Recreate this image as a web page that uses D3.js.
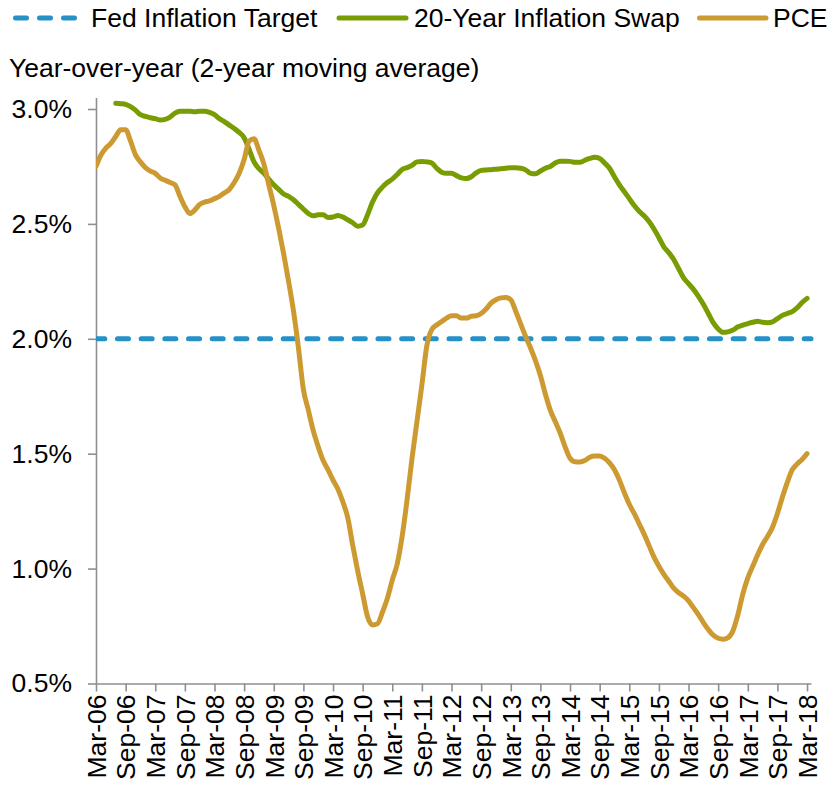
<!DOCTYPE html>
<html>
<head>
<meta charset="utf-8">
<script src="https://cdn.jsdelivr.net/npm/d3@7"></script>
<style>
  body { margin: 0; background: #fff; }
  svg { display: block; }
  text { font-family: "Liberation Sans", Arial, sans-serif; fill: #000; }
</style>
</head>
<body>
<svg id="chart" width="830" height="785"></svg>
<script>
// Monthly observations, Mar-2006 .. Mar-2018 (145 months)
const pce = [
  2.75, 2.80, 2.83, 2.85, 2.88, 2.91, 2.91, 2.86, 2.80, 2.77, 2.745, 2.73,
  2.72, 2.70, 2.69, 2.68, 2.67, 2.62, 2.575, 2.545, 2.56, 2.585, 2.595, 2.60,
  2.61, 2.62, 2.635, 2.65, 2.68, 2.72, 2.78, 2.86, 2.87, 2.82, 2.76, 2.67,
  2.58, 2.48, 2.37, 2.25, 2.12, 1.96, 1.78, 1.69, 1.60, 1.53, 1.47, 1.43,
  1.385, 1.345, 1.29, 1.22, 1.10, 0.99, 0.89, 0.79, 0.755, 0.76, 0.81, 0.87,
  0.95, 1.02, 1.14, 1.30, 1.48, 1.64, 1.80, 1.97, 2.04, 2.06, 2.075, 2.09,
  2.10, 2.10, 2.09, 2.09, 2.098, 2.10, 2.11, 2.13, 2.155, 2.17, 2.178, 2.18,
  2.17, 2.12, 2.065, 2.01, 1.96, 1.905, 1.84, 1.76, 1.69, 1.64, 1.59, 1.53,
  1.48, 1.465, 1.464, 1.47, 1.485, 1.49, 1.49, 1.48, 1.46, 1.43, 1.385, 1.33,
  1.28, 1.24, 1.195, 1.15, 1.10, 1.05, 1.01, 0.975, 0.945, 0.915, 0.895, 0.88,
  0.86, 0.83, 0.80, 0.765, 0.735, 0.71, 0.697, 0.693, 0.70, 0.73, 0.80, 0.89,
  0.96, 1.01, 1.06, 1.105, 1.14, 1.18, 1.24, 1.31, 1.375, 1.43, 1.455, 1.475,
  1.50
];

// 20-year inflation swap, same months; series begins in Jul-2006
const swap = [
  null, null, null, null, 3.025, 3.023, 3.02, 3.01, 2.995, 2.975, 2.968, 2.962,
  2.958, 2.952, 2.955, 2.965, 2.982, 2.99, 2.99, 2.99, 2.988, 2.99, 2.99, 2.985,
  2.975, 2.958, 2.945, 2.93, 2.915, 2.898, 2.875, 2.825, 2.77, 2.74, 2.72, 2.695,
  2.67, 2.65, 2.63, 2.62, 2.605, 2.585, 2.565, 2.545, 2.535, 2.54, 2.54, 2.528,
  2.53, 2.537, 2.53, 2.518, 2.505, 2.49, 2.495, 2.54, 2.595, 2.635, 2.66, 2.68,
  2.695, 2.715, 2.737, 2.745, 2.755, 2.77, 2.772, 2.77, 2.765, 2.742, 2.725, 2.72,
  2.72, 2.71, 2.70, 2.697, 2.705, 2.722, 2.733, 2.735, 2.736, 2.738, 2.74, 2.742,
  2.744, 2.744, 2.742, 2.735, 2.72, 2.718, 2.73, 2.742, 2.75, 2.765, 2.773, 2.773,
  2.772, 2.768, 2.768, 2.777, 2.785, 2.79, 2.785, 2.765, 2.742, 2.705, 2.67, 2.64,
  2.61, 2.58, 2.555, 2.535, 2.51, 2.478, 2.44, 2.40, 2.375, 2.345, 2.305, 2.265,
  2.24, 2.215, 2.185, 2.15, 2.11, 2.07, 2.043, 2.028, 2.03, 2.038, 2.052, 2.06,
  2.066, 2.072, 2.076, 2.072, 2.07, 2.074, 2.088, 2.102, 2.11, 2.118, 2.135, 2.158,
  2.176
];

const fedTarget = 2.0;

const xTickLabels = [
  "Mar-06", "Sep-06", "Mar-07", "Sep-07", "Mar-08", "Sep-08", "Mar-09", "Sep-09",
  "Mar-10", "Sep-10", "Mar-11", "Sep-11", "Mar-12", "Sep-12", "Mar-13", "Sep-13",
  "Mar-14", "Sep-14", "Mar-15", "Sep-15", "Mar-16", "Sep-16", "Mar-17", "Sep-17",
  "Mar-18"
];
const yTicks = [0.5, 1.0, 1.5, 2.0, 2.5, 3.0];
const seriesNames = ["Fed Inflation Target", "20-Year Inflation Swap", "PCE"];
const seriesColors = ["#2690c8", "#789c02", "#cc9a30"];
const subtitle = "Year-over-year (2-year moving average)";

const svg = d3.select("#chart");
const FONT = 26.5;

// month index scale (0 = Mar-06); axis runs slightly past the last month
const x = d3.scaleLinear().domain([0, 144.8]).range([96, 811]);
const y = d3.scaleLinear().domain([0.5, 3.05]).range([683.5, 97.5]);

const axisColor = "#8f8f8f";

// plot clip (lines start at the value axis)
svg.append("defs").append("clipPath").attr("id", "plotClip")
  .append("rect").attr("x", x(0)).attr("y", 0).attr("width", 830 - x(0)).attr("height", 785);

// y axis
const yAxis = svg.append("g")
  .attr("transform", `translate(${x(0)},0)`)
  .call(d3.axisLeft(y).tickValues(yTicks).tickSize(8).tickSizeOuter(0)
    .tickPadding(16).tickFormat(d => d.toFixed(1) + "%"));
yAxis.selectAll("path, line").attr("stroke", axisColor).attr("stroke-width", 1.6);
yAxis.selectAll("text").attr("font-size", FONT).attr("fill", "#000")
  .style("font-family", '"Liberation Sans", Arial, sans-serif');

// x axis
const xAxis = svg.append("g")
  .attr("transform", `translate(0,${y(0.5)})`)
  .call(d3.axisBottom(x).tickValues(d3.range(0, 145, 6)).tickSize(8).tickSizeOuter(0)
    .tickFormat((d, i) => xTickLabels[i]));
xAxis.selectAll("path, line").attr("stroke", axisColor).attr("stroke-width", 1.6);
xAxis.selectAll("text")
  .attr("font-size", FONT).attr("fill", "#000")
  .style("font-family", '"Liberation Sans", Arial, sans-serif')
  .attr("transform", "rotate(-90)")
  .attr("text-anchor", "end")
  .attr("x", -11).attr("y", 0).attr("dy", "0.35em");

const plot = svg.append("g").attr("clip-path", "url(#plotClip)");

// Fed target
plot.append("line")
  .attr("x1", x(0)).attr("x2", x(144.8))
  .attr("y1", y(fedTarget)).attr("y2", y(fedTarget))
  .attr("stroke", seriesColors[0]).attr("stroke-width", 5)
  .attr("stroke-linecap", "round")
  .attr("stroke-dasharray", "11,12.68").attr("stroke-dashoffset", 2.2);

const line = d3.line()
  .defined(d => d != null)
  .x((d, i) => x(i)).y(d => y(d))
  .curve(d3.curveMonotoneX);

plot.append("path").datum(swap)
  .attr("d", line).attr("fill", "none")
  .attr("stroke", seriesColors[1]).attr("stroke-width", 5)
  .attr("stroke-linejoin", "round").attr("stroke-linecap", "round");

plot.append("path").datum(pce)
  .attr("d", line).attr("fill", "none")
  .attr("stroke", seriesColors[2]).attr("stroke-width", 5)
  .attr("stroke-linejoin", "round").attr("stroke-linecap", "round");

// legend
const legendY = 18;
const legendItems = [
  { sx: 15.5, ex: 77, tx: 91 },
  { sx: 339, ex: 406, tx: 414 },
  { sx: 699.5, ex: 766, tx: 773 }
];
const legend = svg.append("g");
legendItems.forEach((it, i) => {
  const ln = legend.append("line")
    .attr("x1", it.sx).attr("x2", it.ex)
    .attr("y1", legendY).attr("y2", legendY)
    .attr("stroke", seriesColors[i]).attr("stroke-width", 5)
    .attr("stroke-linecap", "round");
  if (i === 0) ln.attr("stroke-dasharray", "11,13");
  legend.append("text")
    .attr("x", it.tx).attr("y", 27)
    .attr("font-size", FONT)
    .text(seriesNames[i]);
});

// subtitle
svg.append("text")
  .attr("x", 9).attr("y", 77)
  .attr("font-size", FONT)
  .text(subtitle);
</script>
</body>
</html>
